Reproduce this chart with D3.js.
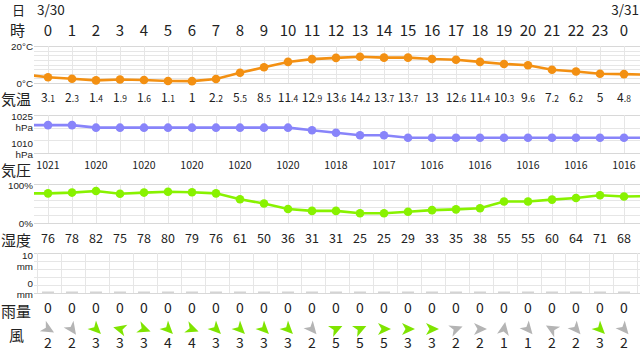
<!DOCTYPE html>
<html><head><meta charset="utf-8">
<script src="https://cdn.jsdelivr.net/npm/d3@7"></script>
<style>
html,body{margin:0;padding:0;background:#fff;}
svg{display:block;font-family:"Noto Sans CJK JP","Noto Sans",sans-serif;}
</style></head><body>
<svg id="c" width="640" height="354"></svg>
<script>
// ---- data ----
const hours = [0,1,2,3,4,5,6,7,8,9,10,11,12,13,14,15,16,17,18,19,20,21,22,23,0];
const dates = [{i:0,label:"3/30"},{i:24,label:"3/31"}];
const temps = [3.1,2.3,1.4,1.9,1.6,1.1,1,2.2,5.5,8.5,11.4,12.9,13.6,14.2,13.7,13.7,13,12.6,11.4,10.3,9.6,7.2,6.2,5,4.8];
const tempEdge = [4.6, 4.5];           // previous / next hour (clipped)
const pressure = [1021,1021,1020,1020,1020,1020,1020,1020,1020,1020,1020,1019,1018,1017,1017,1016,1016,1016,1016,1016,1016,1016,1016,1016,1016];
const pressureEdge = [1021, 1016];
const humidity = [76,78,82,75,78,80,79,76,61,50,36,31,31,25,25,29,33,35,38,55,55,60,64,71,68];
const humidityEdge = [76, 69];
const rain = [0,0,0,0,0,0,0,0,0,0,0,0,0,0,0,0,0,0,0,0,0,0,0,0,0];
const windSpeed = [2,2,3,3,3,4,4,3,3,3,3,2,5,5,5,3,3,2,2,1,1,2,2,3,2];
const windDir = [120,145,135,285,110,135,110,135,135,135,135,140,65,65,90,90,90,70,90,10,140,300,140,135,140];
const tempTicks = [0,20];
const pressureTicks = [1010,1025];
const humidityTicks = [0,100];
const rainTicks = [0,10];

// ---- layout ----
const svg = d3.select("#c");
const W = 640, left = 34;
const n = temps.length;
const x = d3.scaleLinear().domain([0,1]).range([48,72]);

const yT = d3.scaleLinear().domain([0,20]).range([83,46]);
const yP = d3.scaleLinear().domain([1010,1025]).range([153,115]);
const yH = d3.scaleLinear().domain([0,100]).range([223,184]);
const yR = d3.scaleLinear().domain([0,10]).range([293,253]);

const gridCol = "#e6e6e6", gridDark = "#d8d8d8";
const textCol = "#222";

svg.append("defs").append("clipPath").attr("id","clip")
  .append("rect").attr("x",left).attr("y",0).attr("width",W-left).attr("height",354);

// left labels
const leftLabels = [["日",15,12],["時",36,10],["気温",105,1],["気圧",176,1],["湿度",246,1],["雨量",316.5,1],["風",341,9]];
svg.selectAll("text.ll").data(leftLabels).join("text").attr("class","ll")
  .attr("x",d=>d[2]).attr("y",d=>d[1])
  .attr("font-size",d=>d[0]==="日"?13:15).attr("fill",textCol).text(d=>d[0]);

// dates
svg.selectAll("text.date").data(dates).join("text").attr("class","date")
  .attr("x",d=>d.i===0?37:639).attr("text-anchor",d=>d.i===0?"start":"end")
  .attr("y",15).attr("font-size",13.5).attr("fill",textCol).text(d=>d.label);

// hours
svg.selectAll("text.hr").data(hours).join("text").attr("class","hr")
  .attr("x",(d,i)=>x(i)).attr("y",36).attr("text-anchor","middle")
  .attr("font-size",15).attr("fill",textCol).text(d=>d);

function panel(y, step, vlinesOffset){
  const g = svg.append("g");
  const [lo,hi] = y.domain();
  const vals = d3.range(lo, hi+1e-9, step);
  g.selectAll("line.h").data(vals).join("line")
    .attr("x1",left).attr("x2",W).attr("y1",d=>Math.round(y(d))+0.5).attr("y2",d=>Math.round(y(d))+0.5)
    .attr("stroke",d=>(d===hi||d===lo)?gridDark:gridCol).attr("stroke-width",1);
  const vx = d3.range(-1, n+1).map(i=>x(i)+vlinesOffset).filter(v=>v>left&&v<W);
  g.selectAll("line.v").data(vx).join("line")
    .attr("x1",d=>Math.round(d)+0.5).attr("x2",d=>Math.round(d)+0.5)
    .attr("y1",y.range()[1]).attr("y2",y.range()[0])
    .attr("stroke",gridCol).attr("stroke-width",1);
  return g;
}
panel(yT, 2.5, 0);
panel(yP, 5, 0);
panel(yH, 20, 0);
panel(yR, 2, -11);

// axis labels
function axisLab(items){
  svg.selectAll(null).data(items).join("text")
    .attr("x",33).attr("y",d=>d[1]).attr("text-anchor","end")
    .attr("font-family","Liberation Sans, Arial, sans-serif")
    .attr("font-size",9.8).attr("fill","#222").text(d=>d[0]);
}
axisLab([[tempTicks[1]+"°C",49.5],[tempTicks[0]+"°C",86.5]]);
axisLab([[String(pressureTicks[1]),119.5],["hPa",130.5],[String(pressureTicks[0]),146.5],["hPa",157.5]]);
axisLab([[humidityTicks[1]+"%",189],[humidityTicks[0]+"%",226.5]]);
axisLab([[String(rainTicks[1]),259],["mm",270],[String(rainTicks[0]),287],["mm",298]]);

// series lines
function series(vals, edge, y, color){
  const pts = [[-1,edge[0]], ...vals.map((v,i)=>[i,v]), [n,edge[1]]];
  const g = svg.append("g").attr("clip-path","url(#clip)");
  g.append("path").datum(pts)
    .attr("d",d3.line().x(d=>x(d[0])).y(d=>y(d[1])))
    .attr("fill","none").attr("stroke",color).attr("stroke-width",2.6);
  g.selectAll("circle").data(vals).join("circle")
    .attr("cx",(d,i)=>x(i)).attr("cy",d=>y(d)).attr("r",4.3).attr("fill",color);
}
series(temps, tempEdge, yT, "#f39012");
series(pressure, pressureEdge, yP, "#8884fa");
series(humidity, humidityEdge, yH, "#88f200");

// rain bars
svg.append("g").selectAll("rect").data(rain).join("rect")
  .attr("x",(d,i)=>x(i)-6).attr("width",12)
  .attr("y",d=>yR(d)-1.5).attr("height",d=>Math.max(1.5,yR(0)-yR(d)+1.5))
  .attr("fill","#d4d4d4");

// temperature labels with small decimals
const tl = svg.append("g").selectAll("text").data(temps).join("text")
  .attr("x",(d,i)=>x(i)).attr("y",101.5).attr("text-anchor","middle").attr("fill",textCol);
tl.each(function(d){
  const s = String(d).split(".");
  const t = d3.select(this);
  t.append("tspan").attr("font-size",12).text(s[0]);
  if(s.length>1) t.append("tspan").attr("font-size",8.5).text("."+s[1]);
});

// pressure labels (every other hour)
svg.append("g").selectAll("text").data(pressure.map((v,i)=>[i,v]).filter(d=>d[0]%2===0)).join("text")
  .attr("x",d=>x(d[0])).attr("y",169).attr("text-anchor","middle")
  .attr("font-size",10.5).attr("fill",textCol).text(d=>d[1]);

// humidity labels
svg.append("g").selectAll("text").data(humidity).join("text")
  .attr("x",(d,i)=>x(i)).attr("y",242.5).attr("text-anchor","middle")
  .attr("font-size",12.5).attr("fill",textCol).text(d=>d);

// rain labels
svg.append("g").selectAll("text").data(rain).join("text")
  .attr("x",(d,i)=>x(i)).attr("y",313).attr("text-anchor","middle")
  .attr("font-size",14).attr("fill",textCol).text(d=>d);

// wind arrows
const windColor = s => s>=3 ? "#7fe400" : "#b4b4b4";
svg.append("g").selectAll("path").data(windDir).join("path")
  .attr("d","M0,-7 L6,6 L0,2.5 L-6,6 Z")
  .attr("transform",(d,i)=>`translate(${x(i)},329) rotate(${d})`)
  .attr("fill",(d,i)=>windColor(windSpeed[i]));
svg.append("g").selectAll("text").data(windSpeed).join("text")
  .attr("x",(d,i)=>x(i)).attr("y",348).attr("text-anchor","middle")
  .attr("font-size",14).attr("fill",textCol).text(d=>d);
</script></body></html>
